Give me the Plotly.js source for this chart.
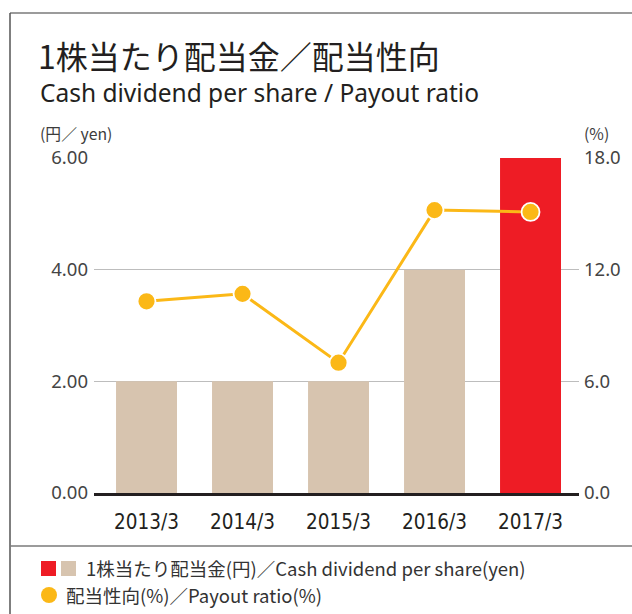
<!DOCTYPE html>
<html>
<head>
<meta charset="utf-8">
<script src="https://cdn.plot.ly/plotly-3.0.1.min.js"></script>
<style>html,body{margin:0;padding:0;background:#fff;}#chart{width:632px;height:614px;}</style>
</head>
<body>
<div id="chart"></div>
<script>
// Data
var categories = ["2013/3", "2014/3", "2015/3", "2016/3", "2017/3"];
var dividendPerShare = [2.0, 2.0, 2.0, 4.0, 6.0];
var payoutRatio = [10.3, 10.7, 7.0, 15.2, 15.1];
var leftTicks = [0, 2, 4, 6];
var rightTicks = [0, 6, 12, 18];

var W = 632, H = 614;
function px(x) { return x / W; }
function py(y) { return 1 - y / H; }

var barColors = dividendPerShare.map(function (v, i) { return i === dividendPerShare.length - 1 ? "#EE1C25" : "#D7C4AF"; });

var jp = "Noto Sans CJK JP, Noto Sans, sans-serif";
var txt = "#231F20";

var traces = [
  {
    type: "bar",
    x: categories,
    y: dividendPerShare,
    marker: { color: barColors },
    width: 0.635,
    hoverinfo: "none",
    showlegend: false
  },
  {
    type: "scatter",
    mode: "lines+markers",
    x: categories,
    y: payoutRatio,
    yaxis: "y2",
    line: { color: "#FBB817", width: 3 },
    marker: { color: "#FBB817", size: 18, line: { color: "#ffffff", width: 1.8 } },
    hoverinfo: "none",
    showlegend: false
  }
];

var layout = {
  width: W,
  height: H,
  margin: { l: 0, r: 0, t: 0, b: 0 },
  paper_bgcolor: "#ffffff",
  plot_bgcolor: "rgba(0,0,0,0)",
  showlegend: false,
  title: {
    text: "1株当たり配当金／配当性向",
    font: { family: jp, size: 32, color: txt },
    x: px(38), xanchor: "left", xref: "container",
    y: py(58), yanchor: "middle", yref: "container"
  },
  xaxis: {
    domain: [px(94), px(579)],
    type: "category",
    range: [-0.547, 4.505],
    showline: true,
    linecolor: "#231F20",
    linewidth: 2.5,
    showgrid: false,
    ticks: "",
    ticklabelstandoff: 9,
    tickfont: { family: "DejaVu Sans Condensed, sans-serif", size: 20.5, color: txt },
    fixedrange: true
  },
  yaxis: {
    domain: [py(493), py(158)],
    range: [0, 6],
    tickvals: leftTicks,
    tickformat: ".2f",
    showgrid: true,
    gridcolor: "#BDBDBD",
    gridwidth: 1,
    zeroline: false,
    showline: false,
    ticks: "",
    ticklabelstandoff: 5,
    tickfont: { family: "Noto Sans, sans-serif", size: 18.5, color: "#444444" },
    fixedrange: true
  },
  yaxis2: {
    overlaying: "y",
    side: "right",
    anchor: "x",
    range: [0, 18],
    tickvals: rightTicks,
    tickformat: ".1f",
    showgrid: false,
    zeroline: false,
    showline: false,
    ticks: "",
    ticklabelstandoff: 4,
    tickfont: { family: "Noto Sans, sans-serif", size: 18.5, color: "#444444" },
    fixedrange: true
  },
  shapes: [
    // frame
    { type: "line", xref: "paper", yref: "paper", x0: px(10), x1: px(640), y0: py(13), y1: py(13), line: { color: "#7A7A7A", width: 1.5 } },
    { type: "line", xref: "paper", yref: "paper", x0: px(10), x1: px(10), y0: py(13), y1: py(620), line: { color: "#555555", width: 1.5 } },
    { type: "line", xref: "paper", yref: "paper", x0: px(10), x1: px(640), y0: py(546), y1: py(546), line: { color: "#7A7A7A", width: 1.5 } },
    // legend swatches
    { type: "rect", xref: "paper", yref: "paper", x0: px(41), x1: px(56), y0: py(576), y1: py(561), fillcolor: "#EE1C25", line: { width: 0 } },
    { type: "rect", xref: "paper", yref: "paper", x0: px(61), x1: px(76), y0: py(576), y1: py(561), fillcolor: "#D7C4AF", line: { width: 0 } },
    { type: "circle", xref: "paper", yref: "paper", x0: px(41), x1: px(57), y0: py(603), y1: py(587), fillcolor: "#FBB817", line: { width: 0 } }
  ],
  annotations: [
    { text: "Cash dividend per share / Payout ratio", xref: "paper", yref: "paper", x: px(38), y: py(92), xanchor: "left", yanchor: "middle", showarrow: false, font: { family: "Noto Sans, sans-serif", size: 24.5, color: txt } },
    { text: "(円／ yen)", xref: "paper", yref: "paper", x: px(38), y: py(133), xanchor: "left", yanchor: "middle", showarrow: false, font: { family: jp, size: 15.8, color: "#3C3C3C" } },
    { text: "(%)", xref: "paper", yref: "paper", x: px(582), y: py(133), xanchor: "left", yanchor: "middle", showarrow: false, font: { family: jp, size: 15.8, color: "#3C3C3C" } },
    { text: "1株当たり配当金(円)／Cash dividend per share(yen)", xref: "paper", yref: "paper", x: px(84), y: py(568), xanchor: "left", yanchor: "middle", showarrow: false, font: { family: jp, size: 18.5, color: "#333333" } },
    { text: "配当性向(%)／Payout ratio(%)", xref: "paper", yref: "paper", x: px(64), y: py(595), xanchor: "left", yanchor: "middle", showarrow: false, font: { family: jp, size: 18.5, color: "#333333" } }
  ]
};

Plotly.newPlot("chart", traces, layout, { staticPlot: true, displayModeBar: false });
</script>
</body>
</html>
